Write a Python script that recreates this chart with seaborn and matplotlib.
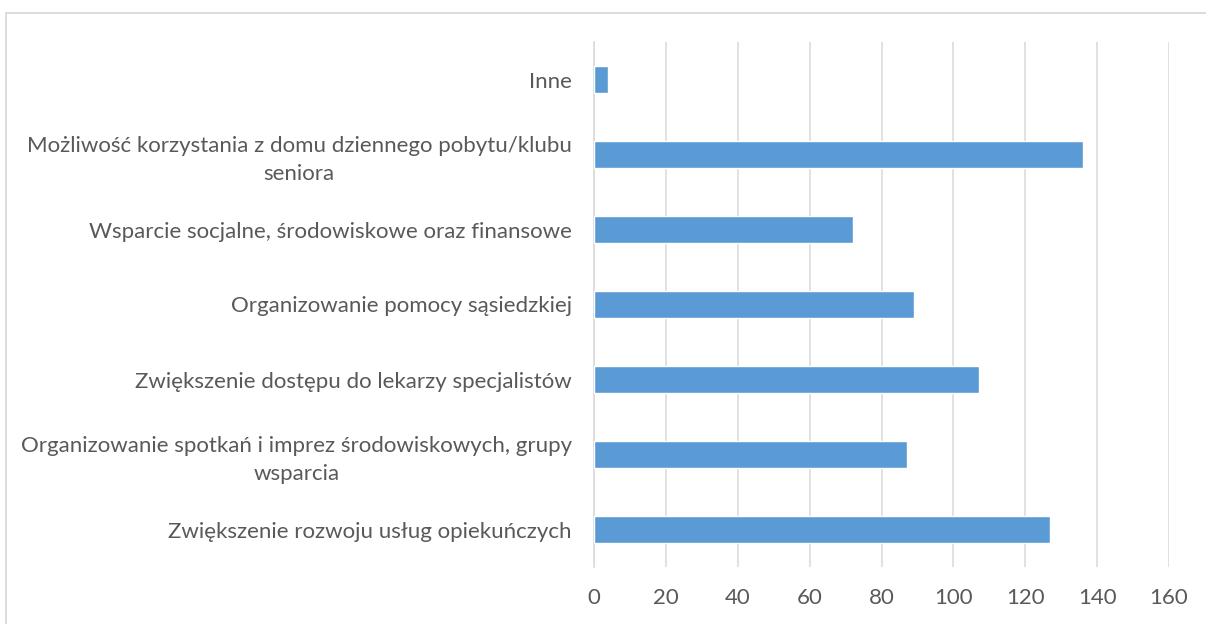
"""
Wykres słupkowy poziomy - oczekiwane formy wsparcia seniorów
"""
import matplotlib
matplotlib.use('Agg')
import matplotlib.pyplot as plt
import seaborn as sns
import pandas as pd
from matplotlib.patches import Rectangle

# Dane (od góry do dołu)
kategorie = [
    'Inne',
    'Możliwość korzystania z domu dziennego pobytu/klubu\nseniora',
    'Wsparcie socjalne, środowiskowe oraz finansowe',
    'Organizowanie pomocy sąsiedzkiej',
    'Zwiększenie dostępu do lekarzy specjalistów',
    'Organizowanie spotkań i imprez środowiskowych, grupy\nwsparcia',
    'Zwiększenie rozwoju usług opiekuńczych',
]
wartosci = [4, 136, 72, 89, 107, 87, 127]
x_ticks = [0, 20, 40, 60, 80, 100, 120, 140, 160]

sns.set_theme(style='white')
plt.rcParams['font.family'] = ['Lato', 'DejaVu Sans']

KOLOR_SLUPKA = '#5b9bd5'
KOLOR_SIATKI = '#d9d9d9'
KOLOR_TEKSTU = '#595959'

df = pd.DataFrame({'kategoria': kategorie, 'wartosc': wartosci})

fig = plt.figure(figsize=(12.06, 6.24), dpi=100)
ax = fig.add_axes([594 / 1206, 1 - 567 / 624, (1169 - 594) / 1206, (567 - 42) / 624])

sns.barplot(data=df, x='wartosc', y='kategoria', orient='h', color=KOLOR_SLUPKA,
            width=0.356, saturation=1, ax=ax, zorder=3)

ax.set_xlim(0, 160)
ax.set_ylim(6.5, -0.5)
ax.set_xticks(x_ticks)
ax.set_xlabel('')
ax.set_ylabel('')

ax.grid(axis='x', color=KOLOR_SIATKI, linewidth=1.1, zorder=0)
ax.grid(axis='y', visible=False)
for side in ['top', 'right', 'bottom']:
    ax.spines[side].set_visible(False)
ax.spines['left'].set_color(KOLOR_SIATKI)
ax.spines['left'].set_linewidth(1.1)

ax.tick_params(axis='both', length=0, labelsize=16, labelcolor=KOLOR_TEKSTU)
ax.tick_params(axis='y', pad=16)
ax.tick_params(axis='x', pad=15)
for lbl in ax.get_yticklabels():
    lbl.set_multialignment('center')
    lbl.set_linespacing(1.45)

# ramka wykresu
fig.patches.append(Rectangle((6 / 1206, -0.1), 1.2, 1 - 13 / 624 + 0.1,
                             transform=fig.transFigure, fill=False,
                             edgecolor=KOLOR_SIATKI, linewidth=1.3))

fig.savefig('out.png', dpi=100)
plt.close(fig)
